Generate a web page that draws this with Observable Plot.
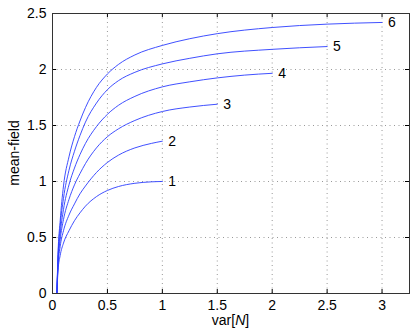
<!DOCTYPE html>
<html>
<head>
<meta charset="utf-8">
<script src="https://cdn.jsdelivr.net/npm/d3@7"></script>
<script src="https://cdn.jsdelivr.net/npm/@observablehq/plot@0.6"></script>
<style>
  html, body { margin: 0; padding: 0; background: white; }
  #chart svg { display: block; }
</style>
</head>
<body>
<div id="chart"></div>
<script>
// ---- data ----
const xTicks = [0, 0.5, 1, 1.5, 2, 2.5, 3];
const yTicks = [0, 0.5, 1, 1.5, 2, 2.5];

const curve1X = [0.04, 0.05, 0.07, 0.1, 0.15, 0.2, 0.25, 0.3, 0.4, 0.5, 0.6, 0.75, 0.9, 1];
const curve1Y = [0, 0.2, 0.34, 0.45, 0.56, 0.65, 0.72, 0.78, 0.865, 0.92, 0.955, 0.984, 0.997, 1.0];

const curve2X = [0.04, 0.05, 0.07, 0.1, 0.15, 0.2, 0.25, 0.3, 0.4, 0.5, 0.6, 0.75, 0.9, 1];
const curve2Y = [0, 0.24, 0.42, 0.56, 0.7, 0.8, 0.89, 0.96, 1.08, 1.17, 1.235, 1.3, 1.34, 1.36];

const curve3X = [0.04, 0.05, 0.07, 0.1, 0.15, 0.2, 0.25, 0.3, 0.4, 0.5, 0.6, 0.75, 1, 1.25, 1.5];
const curve3Y = [0, 0.27, 0.48, 0.66, 0.84, 0.97, 1.07, 1.16, 1.3, 1.4, 1.47, 1.545, 1.625, 1.665, 1.69];

const curve4X = [0.04, 0.05, 0.07, 0.1, 0.15, 0.2, 0.25, 0.3, 0.4, 0.5, 0.6, 0.75, 1, 1.25, 1.5, 1.75, 2];
const curve4Y = [0, 0.29, 0.53, 0.75, 0.97, 1.12, 1.24, 1.34, 1.49, 1.6, 1.68, 1.76, 1.845, 1.89, 1.925, 1.95, 1.966];

const curve5X = [0.04, 0.05, 0.07, 0.1, 0.15, 0.2, 0.25, 0.3, 0.4, 0.5, 0.6, 0.75, 1, 1.25, 1.5, 2, 2.5];
const curve5Y = [0, 0.32, 0.6, 0.85, 1.1, 1.27, 1.41, 1.53, 1.7, 1.82, 1.9, 1.975, 2.05, 2.1, 2.14, 2.18, 2.205];

const curve6X = [0.04, 0.05, 0.07, 0.1, 0.15, 0.2, 0.25, 0.3, 0.4, 0.5, 0.6, 0.75, 1, 1.25, 1.5, 2, 2.5, 3];
const curve6Y = [0, 0.35, 0.65, 0.96, 1.22, 1.4, 1.54, 1.66, 1.84, 1.96, 2.045, 2.13, 2.215, 2.275, 2.32, 2.375, 2.405, 2.42];

const curveLabels = ["1", "2", "3", "4", "5", "6"];

// ---- build tables ----
const xs = [curve1X, curve2X, curve3X, curve4X, curve5X, curve6X];
const ys = [curve1Y, curve2Y, curve3Y, curve4Y, curve5Y, curve6Y];
const lines = [];
const ends = [];
xs.forEach((cx, i) => {
  cx.forEach((x, j) => lines.push({series: curveLabels[i], x, y: ys[i][j]}));
  ends.push({x: cx[cx.length - 1], y: ys[i][ys[i].length - 1], label: curveLabels[i]});
});

const W = 415, H = 333, mL = 52, mR = 6, mT = 13, mB = 40;
const innerW = W - mL - mR, innerH = H - mT - mB;
const font = "'Liberation Sans', Arial, Helvetica, sans-serif";
const fmt = d3.format("~g");

const chart = Plot.plot({
  width: W, height: H,
  marginLeft: mL, marginRight: mR, marginTop: mT, marginBottom: mB,
  style: {fontFamily: font, fontSize: "14px", background: "white", color: "black", overflow: "visible"},
  x: {domain: [0, 3.25], ticks: xTicks, tickSize: 0, tickPadding: 7, tickFormat: fmt, label: null},
  y: {domain: [0, 2.5], ticks: yTicks, tickSize: 0, tickPadding: 6, tickFormat: fmt, label: null},
  marks: [
    Plot.ruleX(xTicks.slice(1), {stroke: "#999", strokeDasharray: "1,3.5", strokeWidth: 1}),
    Plot.ruleY(yTicks.slice(1), {stroke: "#999", strokeDasharray: "1,3.5", strokeWidth: 1}),
    // inward tick marks on all four sides
    Plot.tickX(xTicks, {x: d => d, insetTop: innerH - 4, stroke: "black"}),
    Plot.tickX(xTicks, {x: d => d, insetBottom: innerH - 4, stroke: "black"}),
    Plot.tickY(yTicks, {y: d => d, insetRight: innerW - 4, stroke: "black"}),
    Plot.tickY(yTicks, {y: d => d, insetLeft: innerW - 4, stroke: "black"}),
    Plot.line(lines, {x: "x", y: "y", z: "series", stroke: "#2a3cff", strokeWidth: 0.9, curve: "monotone-x"}),
    Plot.text(ends, {x: "x", y: "y", text: "label", dx: 6, textAnchor: "start", fontSize: 14, fill: "black"}),
    Plot.frame({stroke: "#333", strokeWidth: 1})
  ]
});

document.getElementById("chart").appendChild(chart);

// axis titles (italic N needs tspans)
const svg = d3.select(chart);
const xl = svg.append("text")
  .attr("x", (mL + W - mR) / 2)
  .attr("y", H - 8)
  .attr("text-anchor", "middle")
  .attr("font-family", font)
  .attr("font-size", 14)
  .attr("fill", "black");
xl.append("tspan").text("var[");
xl.append("tspan").attr("font-style", "italic").text("N");
xl.append("tspan").text("]");

svg.append("text")
  .attr("transform", `translate(19,${(mT + H - mB) / 2}) rotate(-90)`)
  .attr("text-anchor", "middle")
  .attr("font-family", font)
  .attr("font-size", 14)
  .attr("fill", "black")
  .text("mean-field");
</script>
</body>
</html>
